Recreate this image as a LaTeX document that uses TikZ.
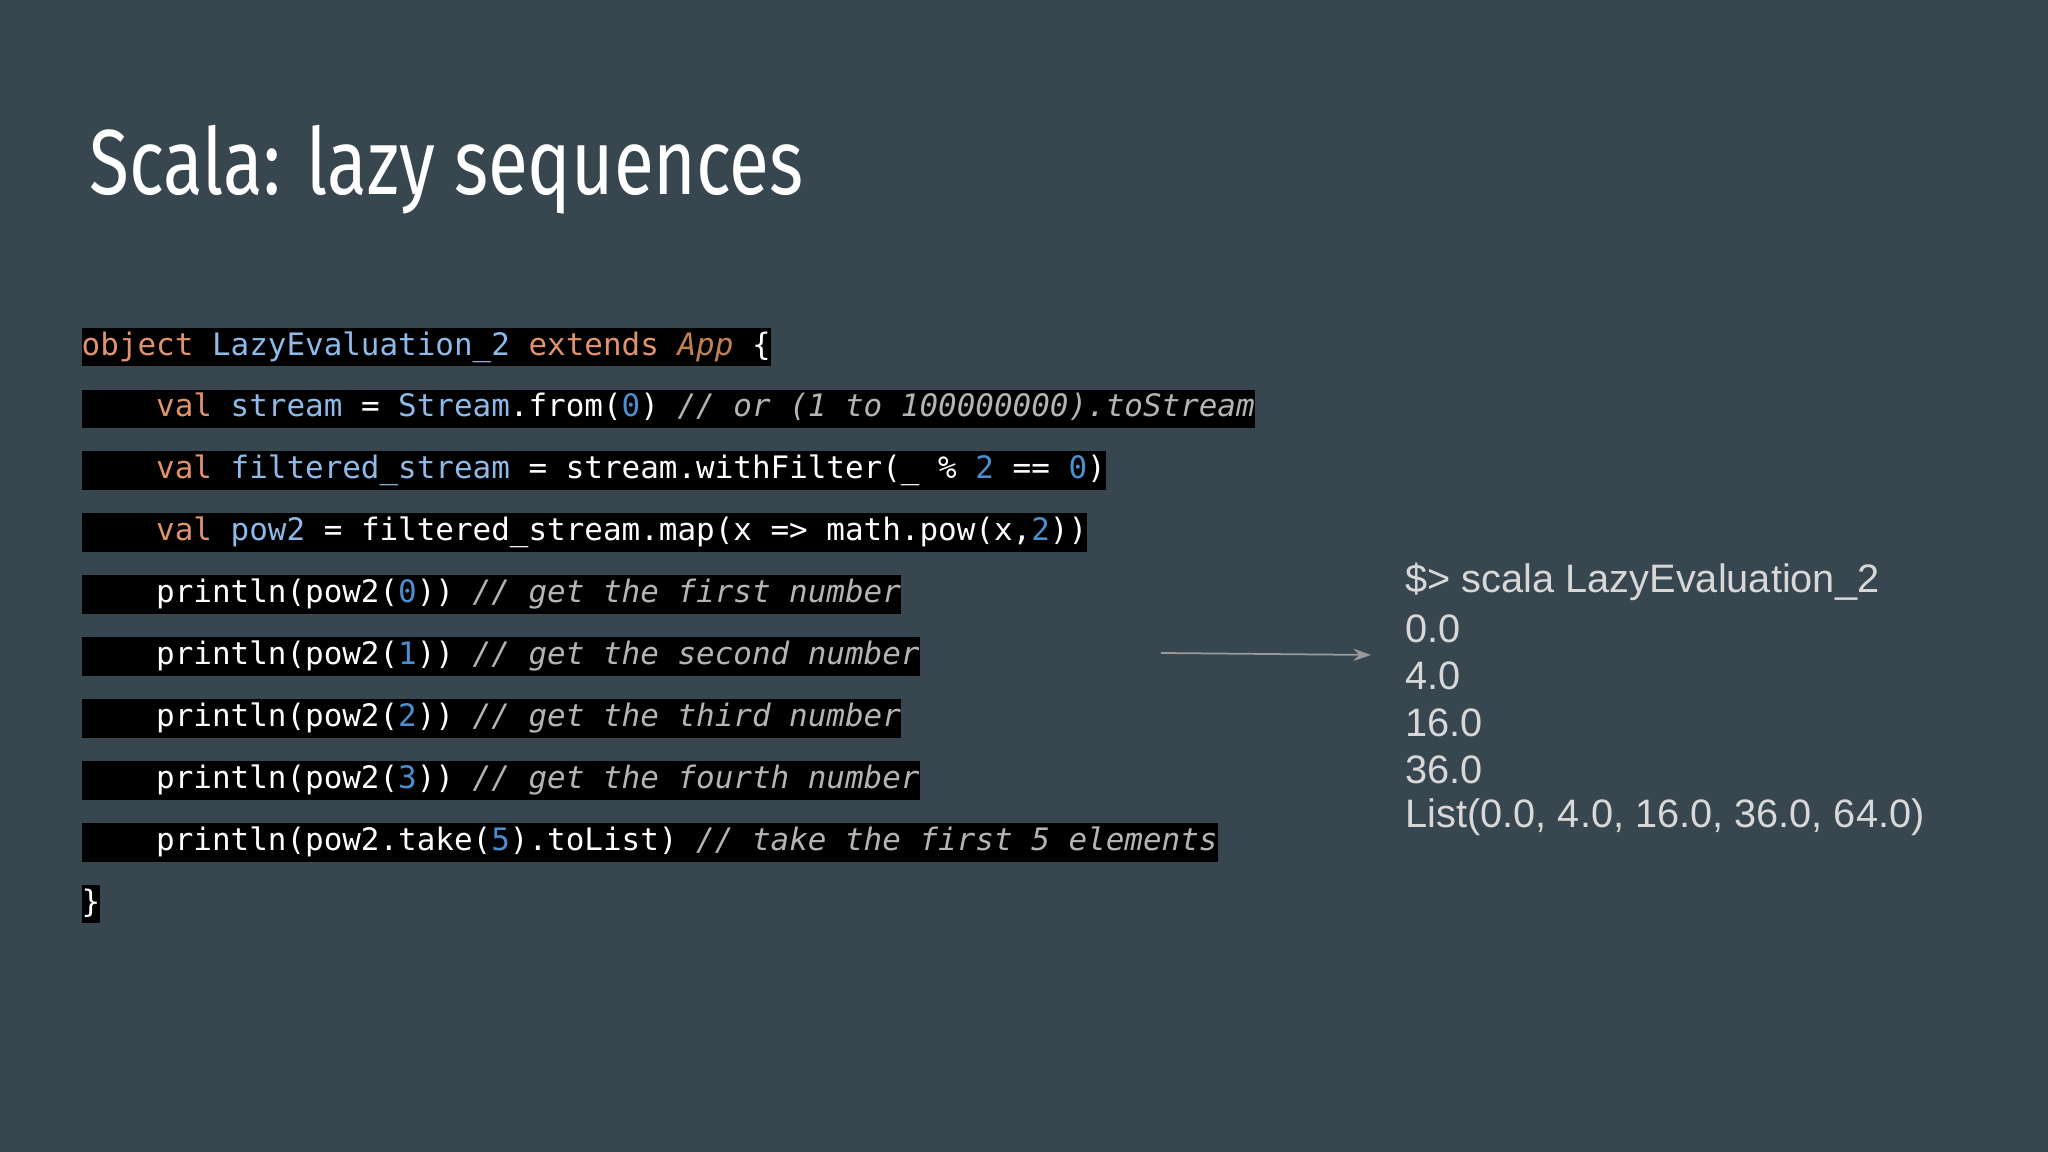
\documentclass[tikz,border=0pt]{standalone}
\usepackage{fontspec}
\usepackage{graphicx}
\setmainfont{Liberation Sans}
\setmonofont{DejaVu Sans Mono}
\newfontfamily\titlefont{Fira Sans}
\usetikzlibrary{arrows.meta}
\definecolor{bgc}{HTML}{37464F}
\definecolor{kwc}{HTML}{E0926A}
\definecolor{idc}{HTML}{8DBAE8}
\definecolor{apc}{HTML}{C0804F}
\definecolor{nmc}{HTML}{4A90D0}
\definecolor{cmc}{HTML}{B4B4B4}
\definecolor{outc}{HTML}{D8D8D8}
\newcommand{\kwd}[1]{\textcolor{kwc}{#1}}
\newcommand{\idf}[1]{\textcolor{idc}{#1}}
\newcommand{\app}[1]{\textcolor{apc}{\itshape #1}}
\newcommand{\num}[1]{\textcolor{nmc}{#1}}
\newcommand{\cmt}[1]{\textcolor{cmc}{\itshape #1}}
\newcommand{\ind}{\phantom{xxxx}}
\tikzset{
  codeline/.style={anchor=west, fill=black, text=white, font=\ttfamily\fontsize{8.8}{10}\selectfont,
    inner xsep=0pt, inner ysep=0pt, text height=7.8pt, text depth=3.2pt},
  outline/.style={anchor=west, text=outc, font=\fontsize{11.3}{13}\selectfont, inner sep=0pt}
}
\begin{document}
\begin{tikzpicture}
\fill[bgc] (0,0) rectangle (20.48,11.52);
\useasboundingbox (0,0) rectangle (20.48,11.52);
\node[anchor=north west, inner sep=0pt, text=white] (title) at (0.89,10.28)
  {\resizebox*{7.14cm}{0.89cm}{\titlefont Scala: lazy sequences}};
\node[codeline] (c1) at (0.81,8.05) {\kwd{object} \idf{LazyEvaluation\_2} \kwd{extends} \app{App} \{};
\node[codeline] (c2) at (0.81,7.431) {\ind\kwd{val} \idf{stream} = \idf{Stream}.from(\num{0}) \cmt{// or (1 to 100000000).toStream}};
\node[codeline] (c3) at (0.81,6.812) {\ind\kwd{val} \idf{filtered\_stream} = stream.withFilter(\_ \% \num{2} == \num{0})};
\node[codeline] (c4) at (0.81,6.193) {\ind\kwd{val} \idf{pow2} = filtered\_stream.map(x => math.pow(x,\num{2}))};
\node[codeline] (c5) at (0.81,5.574) {\ind println(pow2(\num{0})) \cmt{// get the first number}};
\node[codeline] (c6) at (0.81,4.955) {\ind println(pow2(\num{1})) \cmt{// get the second number}};
\node[codeline] (c7) at (0.81,4.336) {\ind println(pow2(\num{2})) \cmt{// get the third number}};
\node[codeline] (c8) at (0.81,3.717) {\ind println(pow2(\num{3})) \cmt{// get the fourth number}};
\node[codeline] (c9) at (0.81,3.098) {\ind println(pow2.take(\num{5}).toList) \cmt{// take the first 5 elements}};
\node[codeline] (c10) at (0.81,2.479) {\}};
\node[outline] (o1) at (14.05,5.70) {\$> scala LazyEvaluation\_2};
\node[outline] (o2) at (14.05,5.23) {0.0};
\node[outline] (o3) at (14.05,4.76) {4.0};
\node[outline] (o4) at (14.05,4.29) {16.0};
\node[outline] (o5) at (14.05,3.82) {36.0};
\node[outline] (o6) at (14.05,3.35) {List(0.0, 4.0, 16.0, 36.0, 64.0)};
\coordinate (a1) at (11.61,4.99);
\coordinate (a2) at (13.71,4.97);
\draw[gray!80, line width=0.5pt, -{Stealth[length=5pt,width=3.5pt]}] (a1) -- (a2);
\end{tikzpicture}
\end{document}
